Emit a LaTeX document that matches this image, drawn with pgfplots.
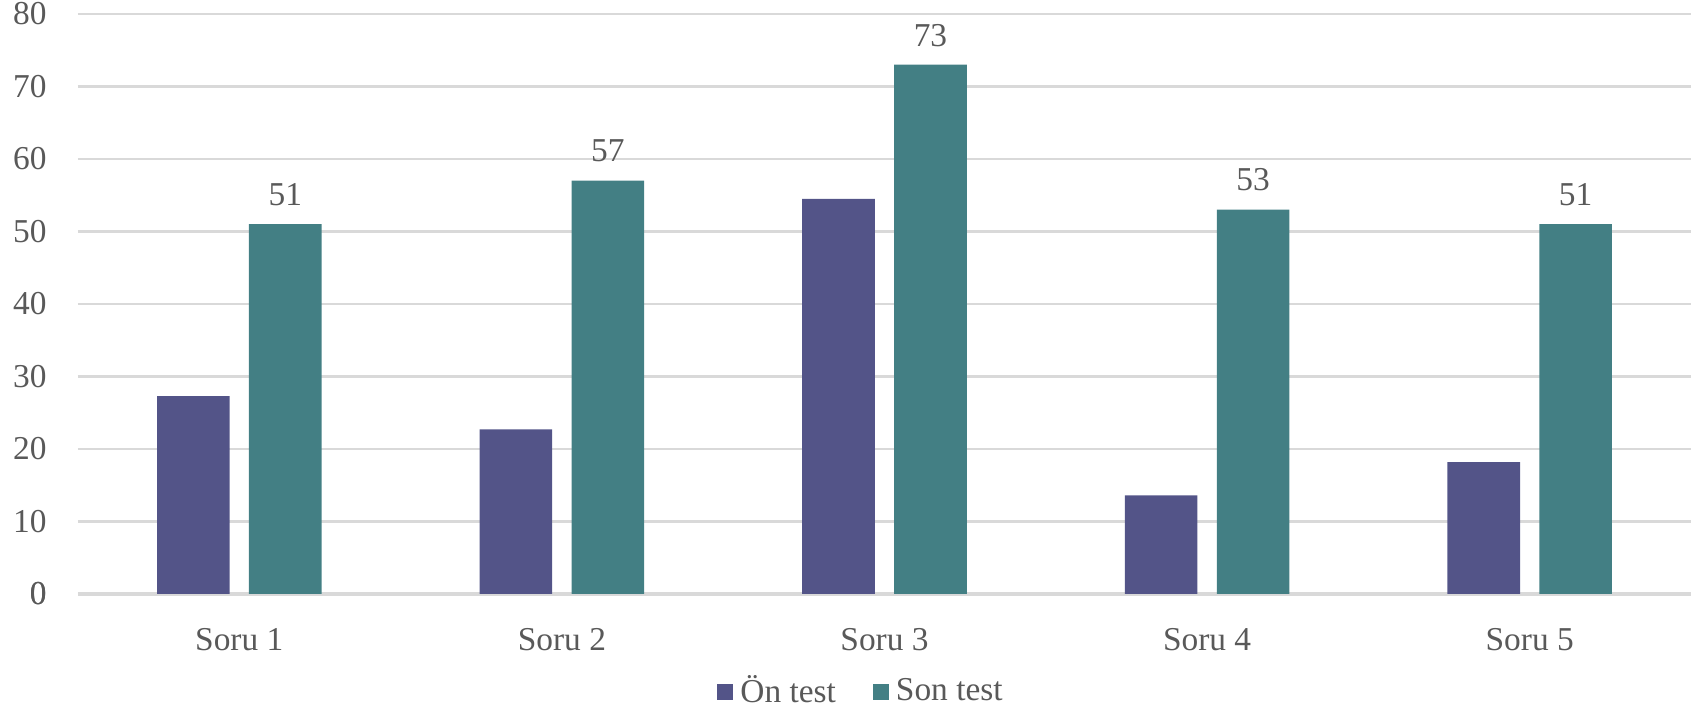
\documentclass[border=0pt]{standalone}
\usepackage{pgfplots}
\pgfplotsset{compat=1.18}
\usepackage{fontspec}
\setmainfont{Liberation Serif}
\definecolor{onc}{HTML}{535488}
\definecolor{sonc}{HTML}{437F84}
\definecolor{gridc}{HTML}{D9D9D9}
\definecolor{txtc}{HTML}{595959}
\begin{document}
\begin{tikzpicture}
\begin{axis}[
  scale only axis,
  width=161.3mm, height=58mm,
  ymin=0, ymax=80, ytick={0,10,...,80},
  xmin=-0.5, xmax=4.5,
  xtick={0,1,2,3,4},
  xticklabels={Soru 1,Soru 2,Soru 3,Soru 4,Soru 5},
  ybar, bar width=0.225,
  axis line style={draw=none},
  major tick length=0pt,
  ymajorgrids, grid style={gridc, line width=0.8pt},
  extra y ticks={0}, extra y tick style={grid style={gridc,line width=1pt}},
  tick label style={font=\fontsize{9.5}{11}\selectfont, text=txtc},
  /pgf/number format/assume math mode=true,
  yticklabel style={xshift=-1.9mm},
  xticklabel style={yshift=-2.2mm},
  legend style={at={(0.487,-0.169)}, anchor=center, draw=none, legend columns=2,
    font=\fontsize{9.5}{11}\selectfont, text=txtc,
    /tikz/every even column/.append style={column sep=3mm}},
  legend image code/.code={\fill[#1] (0mm,-0.8mm) rectangle (1.6mm,0.8mm);},
  clip=false,
]
\addplot[fill=onc, draw=none, bar shift=-0.1425] coordinates {(0,27.3) (1,22.7) (2,54.5) (3,13.6) (4,18.2)};
\addlegendentry{Ön test}
\addplot[fill=sonc, draw=none, bar shift=0.1425,
  nodes near coords, every node near coord/.append style={font=\fontsize{9.5}{11}\selectfont, text=txtc, yshift=0.6mm}] coordinates {(0,51) (1,57) (2,73) (3,53) (4,51)};
\addlegendentry{Son test}
\path (rel axis cs:0,0) ++(-7.8mm,-11.6mm) coordinate (a);
\path (rel axis cs:1,1) ++(0.9mm,1.4mm) coordinate (b);
\end{axis}
\pgfresetboundingbox
\useasboundingbox (a) rectangle (b);
\end{tikzpicture}
\end{document}
